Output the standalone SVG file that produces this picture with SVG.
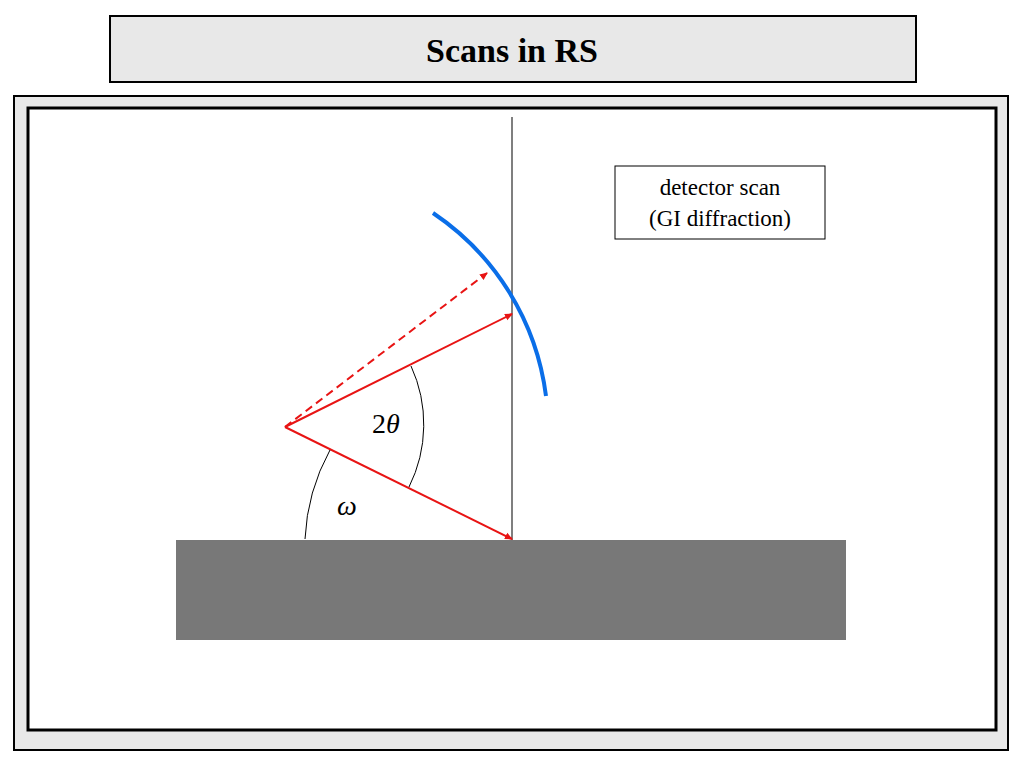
<svg xmlns="http://www.w3.org/2000/svg" width="1024" height="768" viewBox="0 0 1024 768">
<defs>
<marker id="ah" markerWidth="8" markerHeight="8" refX="7" refY="4" orient="auto" markerUnits="userSpaceOnUse"><path d="M0,0.5 L8,4 L0,7.5 Z" fill="#e81414"/></marker>
<style>
.t{font-family:"Liberation Serif",serif;fill:#000}
.ray{stroke:#e81414;stroke-width:2;fill:none}
</style>
</defs>
<rect width="1024" height="768" fill="#fff"/>
<g id="title"><rect x="110" y="16" width="806" height="66" fill="#e8e8e8" stroke="#000" stroke-width="2"/>
<text class="t" x="512" y="62" text-anchor="middle" font-size="34" font-weight="bold">Scans in RS</text></g>
<g id="frame"><rect x="14" y="96" width="994" height="654" fill="#e8e8e8" stroke="#000" stroke-width="2"/>
<rect x="28" y="108" width="968" height="622" fill="#fff" stroke="#000" stroke-width="3"/></g>
<g id="substrate"><rect x="176" y="540" width="670" height="100" fill="#787878"/></g>
<g id="normal"><line x1="512" y1="117" x2="512" y2="540" stroke="#555" stroke-width="1.5"/></g>
<g id="detector"><path d="M433,213 A260,260 0 0 1 546,396" stroke="#0a6ee8" stroke-width="4" fill="none"/></g>
<g id="connectors">
<line class="ray" x1="285" y1="427" x2="512" y2="539" marker-end="url(#ah)"/>
<line class="ray" x1="285" y1="427" x2="512" y2="314" marker-end="url(#ah)"/>
<line class="ray" x1="285" y1="427" x2="487" y2="273" stroke-dasharray="8,5" marker-end="url(#ah)"/>
<path d="M411,366 A140,140 0 0 1 409,487" stroke="#000" fill="none"/>
<path d="M305,539 A205,205 0 0 1 330,450" stroke="#000" fill="none"/>
</g>
<text class="t" x="386" y="433" text-anchor="middle" font-size="28">2<tspan font-style="italic">θ</tspan></text>
<text class="t" x="347" y="515" text-anchor="middle" font-size="28" font-style="italic">ω</text>
<g id="label"><rect x="615" y="166" width="210" height="73" fill="#fff" stroke="#000"/>
<text class="t" x="720" y="195" text-anchor="middle" font-size="23">detector scan</text>
<text class="t" x="720" y="226" text-anchor="middle" font-size="23">(GI diffraction)</text></g>
</svg>
